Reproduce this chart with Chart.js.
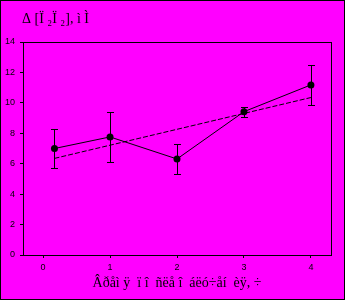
<!DOCTYPE html>
<html><head><meta charset="utf-8">
<script src="https://cdn.jsdelivr.net/npm/chart.js@4"></script>
<style>html,body{margin:0;padding:0;background:#ff00ff;}#wrap{width:345px;height:300px;}</style>
</head><body><div id="wrap"><canvas id="c" width="345" height="300"></canvas></div>
<script>
const timePoints = [0.17, 1, 2, 3, 4];
const meanValues = [7.0, 7.76, 6.31, 9.42, 11.18];
const errorValues = [1.28, 1.66, 0.97, 0.34, 1.3];
const trendX = [0.17, 4];
const trendY = [6.35, 10.35];
const yTicks = [0, 2, 4, 6, 8, 10, 12, 14];
const xTicks = [0, 1, 2, 3, 4];
const chartTitle = 'Δ [Ï ₂Ï ₂], ì Ì';
const xTitle = 'Âðåì ÿ  ï î  ñëå î  áëó÷åí  èÿ, ÷';

const seriesData = timePoints.map((x, i) => ({x: x, y: meanValues[i]}));
const trendData = trendX.map((x, i) => ({x: x, y: trendY[i]}));

const decor = {
  id: 'decor',
  beforeDraw(chart) {
    const ctx = chart.ctx;
    ctx.save();
    ctx.fillStyle = '#ff00ff';
    ctx.fillRect(0, 0, chart.width, chart.height);
    ctx.restore();
  },
  afterDatasetsDraw(chart) {
    const ctx = chart.ctx;
    const xs = chart.scales.x, ys = chart.scales.y;
    ctx.save();
    ctx.strokeStyle = '#000';
    ctx.lineWidth = 1;
    timePoints.forEach((t, i) => {
      const px = Math.round(xs.getPixelForValue(t)) + 0.5;
      const top = Math.round(ys.getPixelForValue(meanValues[i] + errorValues[i])) + 0.5;
      const bot = Math.round(ys.getPixelForValue(meanValues[i] - errorValues[i])) + 0.5;
      ctx.beginPath();
      ctx.moveTo(px, top); ctx.lineTo(px, bot);
      ctx.moveTo(px - 3.5, top); ctx.lineTo(px + 3.5, top);
      ctx.moveTo(px - 3.5, bot); ctx.lineTo(px + 3.5, bot);
      ctx.stroke();
    });
    ctx.restore();
  },
  afterDraw(chart) {
    const ctx = chart.ctx;
    const a = chart.chartArea;
    ctx.save();
    ctx.strokeStyle = '#000';
    ctx.lineWidth = 1;
    ctx.strokeRect(Math.round(a.left) + 0.5, Math.round(a.top) + 0.5, Math.round(a.right - a.left), Math.round(a.bottom - a.top));
    ctx.strokeRect(0.5, 0.5, chart.width - 1, chart.height - 1);
    ctx.fillStyle = '#000';
    ctx.font = '14px "Liberation Serif"';
    ctx.textBaseline = 'middle';
    ctx.textAlign = 'left';
    ctx.fillText(chartTitle, 22, 19);
    ctx.restore();
  }
};

new Chart(document.getElementById('c'), {
  type: 'scatter',
  data: {
    datasets: [
      {
        data: seriesData,
        showLine: true,
        borderColor: '#000',
        backgroundColor: '#000',
        borderWidth: 1,
        pointRadius: 3.5,
        pointBorderWidth: 0,
        pointBackgroundColor: '#000',
        pointBorderColor: '#000',
        tension: 0
      },
      {
        data: trendData,
        showLine: true,
        borderColor: '#000',
        borderWidth: 1,
        borderDash: [5, 2],
        pointRadius: 0,
        tension: 0
      }
    ]
  },
  plugins: [decor],
  options: {
    responsive: false,
    animation: false,
    devicePixelRatio: 1,
    layout: {padding: {top: 42, right: 14, left: 0, bottom: 0}},
    plugins: {legend: {display: false}, tooltip: {enabled: false}, title: {display: false}},
    scales: {
      x: {
        type: 'linear',
        min: -0.3,
        max: 4.3,
        afterFit(s) { s.height = 45; },
        afterBuildTicks(s) { s.ticks = xTicks.map(v => ({value: v})); },
        ticks: {includeBounds: false, color: '#000', font: {family: 'Liberation Sans', size: 9}, padding: 4, maxRotation: 0},
        grid: {drawOnChartArea: false, tickLength: 3, color: '#000', lineWidth: 1},
        border: {display: true, color: '#000', width: 1},
        title: {display: true, text: xTitle, color: '#000', font: {family: 'Liberation Serif', size: 14}, padding: {top: 0, bottom: 8}}
      },
      y: {
        type: 'linear',
        min: 0,
        max: 14,
        afterFit(s) { s.width = 23; },
        afterBuildTicks(s) { s.ticks = yTicks.map(v => ({value: v})); },
        ticks: {color: '#000', font: {family: 'Liberation Sans', size: 9}, padding: 5},
        grid: {drawOnChartArea: false, tickLength: 3, color: '#000', lineWidth: 1},
        border: {display: true, color: '#000', width: 1}
      }
    }
  }
});
</script></body></html>
